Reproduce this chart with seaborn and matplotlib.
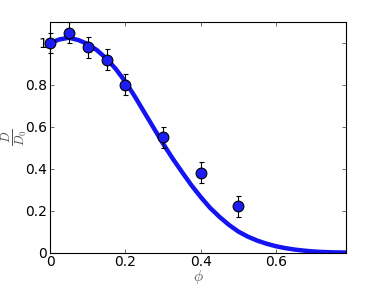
import numpy as np
import pandas as pd
import matplotlib
matplotlib.use('Agg')
import matplotlib.pyplot as plt
import seaborn as sns

# measured points
phi_data = [0.0, 0.05, 0.1, 0.15, 0.2, 0.3, 0.4, 0.5]
d_data = [1.0, 1.05, 0.98, 0.92, 0.80, 0.55, 0.38, 0.22]
d_err = [0.05, 0.05, 0.05, 0.05, 0.05, 0.05, 0.05, 0.05]

# theory curve
phi_curve = [0.0, 0.025, 0.05, 0.075, 0.1, 0.125, 0.15, 0.175, 0.2, 0.225,
             0.25, 0.275, 0.3, 0.325, 0.35, 0.375, 0.4, 0.425, 0.45, 0.475,
             0.5, 0.525, 0.55, 0.575, 0.6, 0.625, 0.65, 0.675, 0.7, 0.725,
             0.75, 0.785]
d_curve = [1.0, 1.017, 1.025, 1.014, 0.995, 0.965, 0.925, 0.875, 0.815, 0.745,
           0.67, 0.595, 0.52, 0.45, 0.385, 0.322, 0.265, 0.213, 0.17, 0.132,
           0.10, 0.076, 0.057, 0.042, 0.03, 0.021, 0.014, 0.009, 0.005, 0.0025,
           0.001, 0.0]

xticks = [0, 0.2, 0.4, 0.6]
xticklabels = ['0', '0.2', '0.4', '0.6']
yticks = [0, 0.2, 0.4, 0.6, 0.8, 1.0]
yticklabels = ['0', '0.2', '0.4', '0.6', '0.8', '1']

sns.set_style('ticks')
plt.rcParams['font.family'] = ['DejaVu Sans']
plt.rcParams['mathtext.fontset'] = 'cm'

fig = plt.figure(figsize=(3.82, 2.86), dpi=100)
ax = fig.add_axes([0.131, 0.117, 0.774, 0.806])

curve = pd.DataFrame({'phi': phi_curve, 'D': d_curve})
pts = pd.DataFrame({'phi': phi_data, 'D': d_data, 'err': d_err})

sns.lineplot(data=curve, x='phi', y='D', color='#1414f2', linewidth=3.2, ax=ax,
             clip_on=True, zorder=2)
ax.errorbar(pts['phi'], pts['D'], yerr=pts['err'], fmt='none', ecolor='black',
            elinewidth=0.8, capsize=1.8, capthick=0.8, zorder=3, clip_on=False)
sns.scatterplot(data=pts, x='phi', y='D', s=60, color='#1c1cf5', edgecolor='black',
                linewidth=0.8, ax=ax, zorder=4, clip_on=False)

ax.set_xlim(0, 0.785)
ax.set_ylim(0, 1.1)
ax.set_xticks(xticks)
ax.set_xticklabels(xticklabels)
ax.set_yticks(yticks)
ax.set_yticklabels(yticklabels)
ax.tick_params(direction='in', top=True, right=True, labelsize=10, length=3,
               width=0.6, colors='#555555', labelcolor='black', pad=2)
for s in ax.spines.values():
    s.set_linewidth(0.8)
    s.set_color('black')

ax.set_xlabel(r'$\phi$', fontsize=11, color='#555555', va='center')
ax.xaxis.set_label_coords(0.5, -0.105)
ax.set_ylabel(r'$\frac{D}{D_0}$', fontsize=13, color='#555555', va='center')
ax.yaxis.set_label_coords(-0.12, 0.5)

fig.savefig('out.png', dpi=100)
